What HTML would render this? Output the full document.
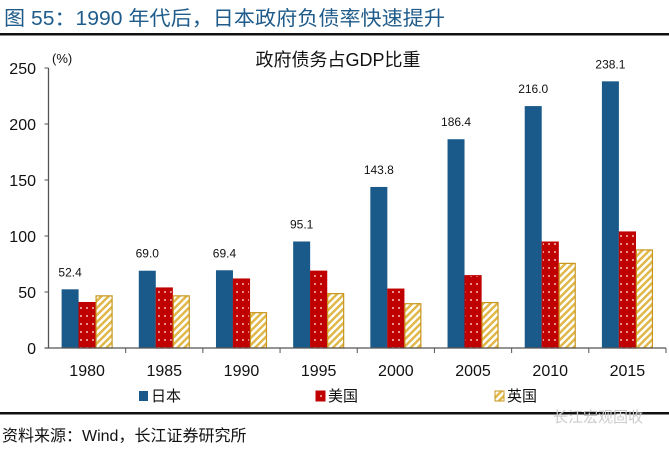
<!DOCTYPE html>
<html><head><meta charset="utf-8"><style>
body{margin:0;background:#fff;width:669px;height:447px;overflow:hidden;font-family:"Liberation Sans","Noto Sans CJK SC",sans-serif}
</style></head><body>
<svg width="669" height="447" xmlns="http://www.w3.org/2000/svg" font-family="Liberation Sans, Noto Sans CJK SC, sans-serif">
<defs>
<pattern id="dots" width="6" height="8" patternUnits="userSpaceOnUse">
<rect width="6" height="8" fill="#c00000"/><circle cx="3" cy="4" r="1" fill="#f4c0c0"/>
</pattern>
<pattern id="hatch" width="5" height="5" patternUnits="userSpaceOnUse" patternTransform="rotate(45)">
<rect width="5" height="5" fill="#fff"/><rect width="2.5" height="5" fill="#e0b84a"/>
</pattern>
</defs>
<text x="4" y="25" font-size="20" fill="#1f5c8b" textLength="441" lengthAdjust="spacingAndGlyphs">图 55：1990 年代后，日本政府负债率快速提升</text>
<rect x="0" y="33" width="669" height="2.5" fill="#111"/>
<text x="338" y="66" font-size="18" text-anchor="middle" fill="#111">政府债务占GDP比重</text>
<text x="52" y="63" font-size="13" fill="#111">(%)</text>
<g id="chart"></g>
<rect x="0" y="412" width="669" height="2.5" fill="#111"/>
<text x="2" y="441" font-size="16" fill="#111">资料来源：Wind，长江证券研究所</text>
<text x="553" y="422" font-size="15" fill="#ccc">长江宏观固收</text>
</svg>
<script>
const categories=["1980","1985","1990","1995","2000","2005","2010","2015"];
const japan=[52.4,69.0,69.4,95.1,143.8,186.4,216.0,238.1];
const usa=[41,54,62,69,53,65,95,104];
const uk=[47,47,32,49,40,41,76,88];
const yTicks=[0,50,100,150,200,250];
const seriesNames=["日本","美国","英国"];
const NS="http://www.w3.org/2000/svg";
const g=document.getElementById('chart');
const x0=48.5,x1=666,y0=348,yTop=68;
const y=v=>y0-(v/250)*(y0-yTop);
const cw=(x1-x0)/categories.length;
function mk(t,a){const e=document.createElementNS(NS,t);for(const k in a)e.setAttribute(k,a[k]);g.appendChild(e);return e;}
yTicks.forEach(t=>{
 const l=mk('line',{x1:x0-4,x2:x0,y1:y(t),y2:y(t),stroke:'#555'});
 
 
 const tx=mk('text',{x:36,y:y(t)+6,'font-size':16,'text-anchor':'end',fill:'#111'});tx.textContent=t;
 
 
});
const fills=['#1a5a8a','url(#dots)','url(#hatch)'];
const strokes=['none','#c00000','#c8961e'];
const names=['bar-japan','bar-usa','bar-uk'];
const bw=17;
categories.forEach((c,i)=>{
 const cx=x0+cw*(i+0.5);
 [japan,usa,uk].forEach((s,k)=>{
  const bx=cx-1.5*bw+k*bw;
  const r=mk('rect',{x:bx+(k?0.5:0),y:y(s[i])+(k?0.5:0),width:bw-(k?1:0),height:y0-y(s[i])-(k?0.5:0),fill:fills[k],stroke:strokes[k],'stroke-width':k?1.2:0});
  
  
 });
 const lt=mk('text',{x:cx-1.5*bw+bw/2,y:y(japan[i])-13,'font-size':12,'text-anchor':'middle',fill:'#111'});lt.textContent=japan[i].toFixed(1);
 
 
 const xt=mk('text',{x:cx,y:376,'font-size':16,'text-anchor':'middle',fill:'#111'});xt.textContent=c;
 
 
 const tk=mk('line',{x1:x0+cw*(i+1),x2:x0+cw*(i+1),y1:y0,y2:y0+5,stroke:'#555'});
 
 
});
const ya=mk('line',{x1:x0,x2:x0,y1:yTop,y2:y0,stroke:'#555','stroke-width':1.3});


const xa=mk('line',{x1:x0-4,x2:x1,y1:y0,y2:y0,stroke:'#555','stroke-width':1.3});


const lx=[139,316,495];
seriesNames.forEach((n,k)=>{
 const r=mk('rect',{x:lx[k],y:391,width:9,height:10,fill:fills[k],stroke:strokes[k]});
 
 
 const t=mk('text',{x:lx[k]+12,y:401,'font-size':15,fill:'#111'});t.textContent=n;
 
 
});
</script>
</body></html>
